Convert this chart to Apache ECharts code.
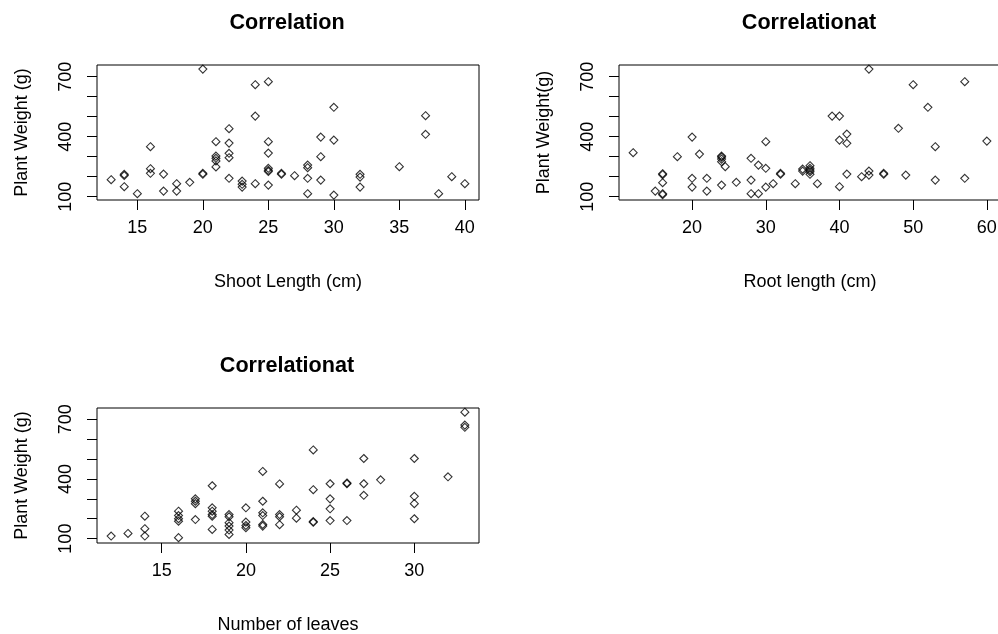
<!DOCTYPE html>
<html>
<head>
<meta charset="utf-8">
<script src="https://cdn.jsdelivr.net/npm/echarts@6/dist/echarts.min.js"></script>
<style>
  html, body { margin: 0; padding: 0; background: #fff; }
  #chart { width: 998px; height: 634px; }
</style>
</head>
<body>
<div id="chart"></div>
<script>
// Plant weight against shoot length
const shootLength = [13, 14, 14, 14, 15, 16, 16, 16, 17, 17, 18, 18, 19, 20, 20, 20,
  21, 21, 21, 21, 21, 22, 22, 22, 22, 22, 23, 23, 23, 24, 24, 24,
  25, 25, 25, 25, 25, 25, 25, 26, 26, 27, 28, 28, 28, 28, 29, 29, 29,
  30, 30, 30, 32, 32, 32, 35, 37, 37, 38, 39, 40];
const weightShoot = [185, 212, 206, 150, 115, 350, 240, 217, 213, 128, 165, 128, 172, 738, 217, 212,
  375, 303, 292, 279, 249, 440, 368, 317, 295, 192, 178, 162, 148, 660, 503, 165,
  675, 375, 318, 242, 232, 226, 158, 217, 212, 205, 258, 245, 192, 115, 398, 300, 183,
  547, 383, 108, 212, 198, 148, 250, 505, 412, 115, 200, 165];

// Plant weight against root length
const rootLength = [12, 15, 16, 16, 16, 16, 16, 18, 20, 20, 20, 21, 22, 22,
  24, 24, 24, 24, 24, 24.5, 26, 28, 28, 28, 29, 29, 30, 30, 30, 31, 32, 32,
  34, 35, 35, 36, 36, 36, 36, 36, 37, 39, 40, 40, 40, 41, 41, 41, 43,
  44, 44, 44, 46, 46, 48, 49, 50, 52, 53, 53, 57, 57, 60];
const weightRoot = [320, 128, 215, 210, 170, 115, 110, 300, 398, 192, 148, 313, 192, 128,
  303, 298, 288, 275, 158, 250, 172, 292, 183, 115, 258, 115, 375, 242, 148, 165, 217, 212,
  165, 228, 238, 255, 242, 233, 225, 212, 165, 503, 503, 383, 150, 413, 367, 213, 200,
  738, 228, 208, 217, 212, 442, 208, 660, 547, 350, 183, 675, 192, 378];

// Plant weight against number of leaves
const leafCount = [12, 13, 14, 14, 14, 16, 16, 16, 16, 16, 17, 17, 17, 17,
  18, 18, 18, 18, 18, 18, 19, 19, 19, 19, 19, 19, 20, 20, 20, 20,
  21, 21, 21, 21, 21, 21, 22, 22, 22, 22, 23, 23, 24, 24, 24, 24,
  25, 25, 25, 25, 26, 26, 26, 27, 27, 27, 28, 30, 30, 30, 30, 32, 33, 33, 33];
const weightLeaves = [113, 126, 213, 150, 113, 238, 216, 200, 188, 105, 300, 288, 276, 196,
  366, 255, 238, 221, 213, 146, 221, 210, 180, 163, 143, 121, 255, 183, 166, 155,
  438, 288, 230, 216, 171, 163, 375, 221, 210, 170, 243, 203, 546, 346, 186, 182,
  376, 300, 250, 191, 380, 376, 191, 503, 376, 318, 396, 503, 313, 276, 200, 411, 736, 671, 660];

// Tick positions
const shootTicks = [15, 20, 25, 30, 35, 40];
const rootTicks = [20, 30, 40, 50, 60];
const leafTicks = [15, 20, 25, 30];
const weightTicks = [100, 200, 300, 400, 500, 600, 700];
const weightLabels = [100, 400, 700];

// Text
const titles = ['Correlation', 'Correlationat', 'Correlationat'];
const xNames = ['Shoot Length (cm)', 'Root length (cm)', 'Number of leaves'];
const yNames = ['Plant Weight (g)', 'Plant Weight(g)', 'Plant Weight (g)'];

const FONT = "'Liberation Sans', Arial, sans-serif";
const BLACK = '#000';

const panels = [
  { left: 97, top: 65, width: 382, height: 135, xMin: 11.92, xMax: 41.08, yMin: 83.5, yMax: 758.5,
    xTicks: shootTicks, xs: shootLength, ys: weightShoot },
  { left: 619, top: 65, width: 382, height: 135, xMin: 10.08, xMax: 61.92, yMin: 83.5, yMax: 758.5,
    xTicks: rootTicks, xs: rootLength, ys: weightRoot },
  { left: 97, top: 408, width: 382, height: 135, xMin: 11.16, xMax: 33.84, yMin: 78, yMax: 757,
    xTicks: leafTicks, xs: leafCount, ys: weightLeaves }
];

const grid = [], xAxis = [], yAxis = [], series = [], title = [];

panels.forEach((p, i) => {
  grid.push({
    left: p.left, top: p.top, width: p.width, height: p.height,
    show: true, borderColor: BLACK, borderWidth: 1, backgroundColor: 'transparent',
    containLabel: false, outerBoundsMode: 'none'
  });
  title.push({
    text: titles[i],
    left: p.left + p.width / 2 - 1,
    top: p.top - 53,
    textAlign: 'center',
    padding: 0,
    textStyle: { fontFamily: FONT, fontSize: 21.6, fontWeight: 'bold', color: BLACK }
  });
  xAxis.push({
    type: 'value', gridIndex: i, min: p.xMin, max: p.xMax,
    axisLine: { show: false },
    splitLine: { show: false },
    axisTick: { show: true, inside: false, length: 10, customValues: p.xTicks,
      lineStyle: { color: BLACK, width: 1 } },
    axisLabel: { show: true, customValues: p.xTicks, margin: 19, color: BLACK,
      fontFamily: FONT, fontSize: 18, showMinLabel: true, showMaxLabel: true },
    name: xNames[i], nameLocation: 'middle', nameGap: 73,
    nameTextStyle: { fontFamily: FONT, fontSize: 18, color: BLACK }
  });
  yAxis.push({
    type: 'value', gridIndex: i, min: p.yMin, max: p.yMax,
    axisLine: { show: false },
    splitLine: { show: false },
    axisTick: { show: true, inside: false, length: 10, customValues: weightTicks,
      lineStyle: { color: BLACK, width: 1 } },
    axisLabel: { show: true, customValues: weightLabels, rotate: 90, margin: 22, color: BLACK,
      fontFamily: FONT, fontSize: 18 },
    name: yNames[i], nameLocation: 'middle', nameGap: 66, nameRotate: 90,
    nameTextStyle: { fontFamily: FONT, fontSize: 18, color: BLACK }
  });
  series.push({
    type: 'scatter', xAxisIndex: i, yAxisIndex: i,
    data: p.xs.map((x, k) => [x, p.ys[k]]),
    symbol: 'diamond', symbolSize: 8,
    itemStyle: { color: 'rgba(0,0,0,0)', borderColor: BLACK, borderWidth: 1.1 },
    emphasis: { disabled: true },
    silent: true,
    animation: false
  });
});

const chart = echarts.init(document.getElementById('chart'), null, { renderer: 'canvas' });
chart.setOption({
  backgroundColor: '#fff',
  animation: false,
  textStyle: { fontFamily: FONT },
  title, grid, xAxis, yAxis, series
});
</script>
</body>
</html>
